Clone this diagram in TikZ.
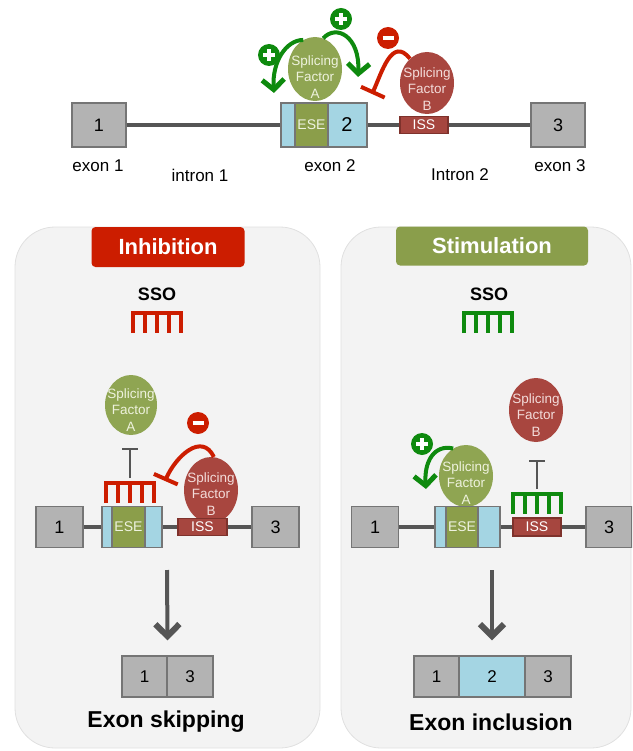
\documentclass[tikz,border=0pt]{standalone}
\usepackage{fontspec}
\setmainfont{Liberation Sans}
\usetikzlibrary{arrows.meta, shapes.geometric, positioning}

\definecolor{exongray}{HTML}{B3B3B3}
\definecolor{exonedge}{HTML}{757575}
\definecolor{exonblue}{HTML}{A4D5E3}
\definecolor{esegreen}{HTML}{8B9E4A}
\definecolor{esetext}{HTML}{EEF2E0}
\definecolor{issred}{HTML}{A6463F}
\definecolor{issedge}{HTML}{7E322C}
\definecolor{sfagreen}{HTML}{8FA552}
\definecolor{sfatext}{HTML}{EEF2DD}
\definecolor{sfbred}{HTML}{A8463F}
\definecolor{sfbtext}{HTML}{F3DCDA}
\definecolor{intronline}{HTML}{555555}
\definecolor{actgreen}{HTML}{0E8A0E}
\definecolor{inhred}{HTML}{CC1D00}
\definecolor{stimgreen}{HTML}{8A9E4B}
\definecolor{panelgray}{HTML}{F3F3F3}

\newcommand{\plusmark}{\makebox[0pt]{\rule[-1.6pt]{12pt}{3.2pt}}\makebox[0pt]{\rule[-6pt]{3.2pt}{12pt}}}
\newcommand{\minusmark}{\rule{11pt}{3.4pt}}

\begin{document}
\begin{tikzpicture}[x=1pt, y=-1pt,
    exon/.style={draw=exonedge, fill=exongray, line width=1.2pt, inner sep=0pt,
      minimum width=47pt, minimum height=41pt, font=\fontsize{18}{20}\selectfont},
    exmid/.style={exon, fill=exonblue},
    ese/.style={exon, fill=esegreen, text=esetext, font=\fontsize{14}{16}\selectfont},
    iss/.style={draw=issedge, fill=issred, text=white, line width=1.2pt, inner sep=0pt,
      minimum width=48pt, minimum height=17pt, font=\fontsize{14}{16}\selectfont},
    factor/.style={ellipse, inner sep=0pt, minimum width=54pt, minimum height=64pt},
    factxt/.style={align=center, font=\fontsize{13.5}{16.5}\selectfont},
    intron/.style={draw=intronline, line width=4.5pt},
    lbl/.style={font=\fontsize{17}{20}\selectfont},
    sign/.style={circle, inner sep=0pt, minimum size=22pt, text=white},
    actarrow/.style={draw=actgreen, line width=4pt,
      -{Straight Barb[length=10pt, width=22pt, line width=5pt]}},
    inharrow/.style={draw=inhred, line width=4pt, -{Bar[width=26pt]}},
    blockbar/.style={draw=intronline, line width=1.8pt, -{Bar[width=16pt]}},
    flowarrow/.style={draw=intronline, line width=4pt,
      -{Straight Barb[length=12pt, width=24pt, line width=6pt]}},
    panel/.style={draw=black!12, fill=panelgray, line width=0.8pt, rounded corners=40pt},
    header/.style={rounded corners=4pt, text=white, inner sep=0pt,
      font=\bfseries\fontsize{22}{24}\selectfont},
    restxt/.style={font=\bfseries\fontsize{23}{26}\selectfont},
  ]
  \clip (0,0) rectangle (632,751);

  % Pre-mRNA: exon 2 with ESE and intronic ISS
  \node[factor, fill=sfagreen] (sfA) at (315,69) {};
  \node[factxt, text=sfatext] (sfAt) at (315,77) {Splicing\\Factor\\A};
  \node[factor, fill=sfbred, minimum height=62pt] (sfB) at (427,83) {};
  \node[factxt, text=sfbtext] (sfBt) at (427,89) {Splicing\\Factor\\B};
  \node[exon, minimum width=54pt, minimum height=44pt] (ex1) at (99,125) {1};
  \node[exmid, minimum width=86pt, minimum height=44pt] (ex2) at (324,125) {};
  \node[ese, minimum width=33pt, minimum height=44pt] (ese) at (311.5,125) {ESE};
  \node[font=\fontsize{20}{22}\selectfont] (ex2n) at (347,125) {2};
  \node[iss] (iss) at (424,125) {ISS};
  \node[exon, minimum width=54pt, minimum height=44pt] (ex3) at (558,125) {3};
  \draw[intron] (ex1) -- (ex2);
  \draw[intron] (ex2) -- (iss);
  \draw[intron] (iss) -- (ex3);

  \node[lbl] (lex1) at (98,166) {exon 1};
  \node[lbl] (lin1) at (200,175) {intron 1};
  \node[lbl] (lex2) at (330,166) {exon 2};
  \node[lbl] (lin2) at (460,175) {Intron 2};
  \node[lbl] (lex3) at (560,166) {exon 3};

  % Regulation by the two factors
  \node[sign, fill=actgreen] (plusA) at (269,55) {\plusmark};
  \node[sign, fill=actgreen] (plusB) at (341,19) {\plusmark};
  \node[sign, fill=inhred] (minB) at (388,38) {\minusmark};
  \coordinate (tipA1) at (274,93);
  \coordinate (tipA2) at (358,77);
  \coordinate (tipB) at (372,94);
  \draw[actarrow] (sfA.112) .. controls (286,40) and (272,62) .. (tipA1);
  \draw[actarrow] (sfA.75) .. controls (336,24) and (360,36) .. (tipA2);
  \draw[inharrow] (sfB.125) .. controls (392,36) and (382,72) .. (tipB);

  % Two panels
  \draw[panel] (15,227) rectangle (320,748);
  \draw[panel] (341,227) rectangle (631,748);
  \node[header, fill=inhred, minimum width=153pt, minimum height=40pt] (hdrL) at (168,247) {Inhibition};
  \node[header, fill=stimgreen, minimum width=192pt, minimum height=39pt] (hdrR) at (492,246) {Stimulation};
  \node[font=\bfseries\fontsize{18}{20}\selectfont] (ssoL) at (157,294) {SSO};
  \node[font=\bfseries\fontsize{18}{20}\selectfont] (ssoR) at (489,294) {SSO};

  % SSO combs
  \foreach \cx/\cy/\ccol in {133/313/inhred, 464/313/actgreen, 106/483/inhred, 513/494/actgreen}{
    \draw[\ccol, line width=4.5pt] (\cx,\cy+20) -- (\cx,\cy) -- (\cx+48,\cy) -- (\cx+48,\cy+20);
    \foreach \t in {1,2,3}
      \draw[\ccol, line width=4.5pt] (\cx+\t*12,\cy) -- (\cx+\t*12,\cy+20);
  }

  % Left: SSO on the ESE
  \node[factor, fill=sfagreen, minimum width=52pt, minimum height=60pt] (sfAL) at (131,405) {};
  \node[factxt, text=sfatext] (sfALt) at (131,410) {Splicing\\Factor\\A};
  \node[exon] (ex1L) at (59.5,527) {1};
  \node[exmid, minimum width=60pt] (ex2L) at (132,527) {};
  \node[ese, minimum width=33pt] (eseL) at (128.5,527) {ESE};
  \node[factor, fill=sfbred, minimum height=66pt] (sfBL) at (211,490) {};
  \node[factxt, text=sfbtext] (sfBLt) at (211,494) {Splicing\\Factor\\B};
  \node[iss, minimum width=49pt] (issL) at (202.5,527) {ISS};
  \node[exon] (ex3L) at (275.5,527) {3};
  \draw[intron] (ex1L) -- (ex2L);
  \draw[intron] (ex2L) -- (issL);
  \draw[intron] (issL) -- (ex3L);
  \coordinate (combL) at (130,478);
  \coordinate (barL) at (130,448);
  \draw[blockbar] (combL) -- (barL);
  \node[sign, fill=inhred] (minL) at (198,423) {\minusmark};
  \coordinate (tipL) at (165,481);
  \draw[inharrow] (sfBL.85) .. controls (202,432) and (176,456) .. (tipL);

  % Right: SSO on the ISS
  \node[factor, fill=sfbred] (sfBR) at (536,410) {};
  \node[factxt, text=sfbtext] (sfBRt) at (536,415) {Splicing\\Factor\\B};
  \node[factor, fill=sfagreen, minimum height=62pt] (sfAR) at (466,476) {};
  \node[factxt, text=sfatext] (sfARt) at (466,483) {Splicing\\Factor\\A};
  \node[exon] (ex1R) at (375,527) {1};
  \node[exmid, minimum width=65pt] (ex2R) at (467.5,527) {};
  \node[ese, minimum width=32pt] (eseR) at (462,527) {ESE};
  \node[iss, minimum height=18pt] (issR) at (537,527) {ISS};
  \node[exon, minimum width=46pt] (ex3R) at (609,527) {3};
  \draw[intron] (ex1R) -- (ex2R);
  \draw[intron] (ex2R) -- (issR);
  \draw[intron] (issR) -- (ex3R);
  \coordinate (combR) at (537,489);
  \coordinate (barR) at (537,460);
  \draw[blockbar] (combR) -- (barR);
  \node[sign, fill=actgreen] (plusR) at (422,444) {\plusmark};
  \coordinate (tipR) at (426,489);
  \draw[actarrow] (sfAR.115) .. controls (434,444) and (424,462) .. (tipR);

  % Spliced products
  \node[exon, minimum width=45pt, font=\fontsize{17}{19}\selectfont] (rL1) at (144.5,676.5) {1};
  \node[exon, minimum width=46pt, font=\fontsize{17}{19}\selectfont] (rL3) at (190,676.5) {3};
  \node[exon, minimum width=45pt, font=\fontsize{17}{19}\selectfont] (rR1) at (436.5,676.5) {1};
  \node[exmid, minimum width=66pt, font=\fontsize{17}{19}\selectfont] (rR2) at (492,676.5) {2};
  \node[exon, minimum width=46pt, font=\fontsize{17}{19}\selectfont] (rR3) at (548,676.5) {3};
  \coordinate (dL) at (167,570);
  \coordinate (dR) at (492,570);
  \draw[flowarrow, shorten >=15pt] (dL) -- (rL1.north east);
  \draw[flowarrow, shorten >=15pt] (dR) -- (rR2.north);
  \node[restxt] (resL) at (166,722) {Exon skipping};
  \node[restxt] (resR) at (491,722) {Exon inclusion};
\end{tikzpicture}
\end{document}
